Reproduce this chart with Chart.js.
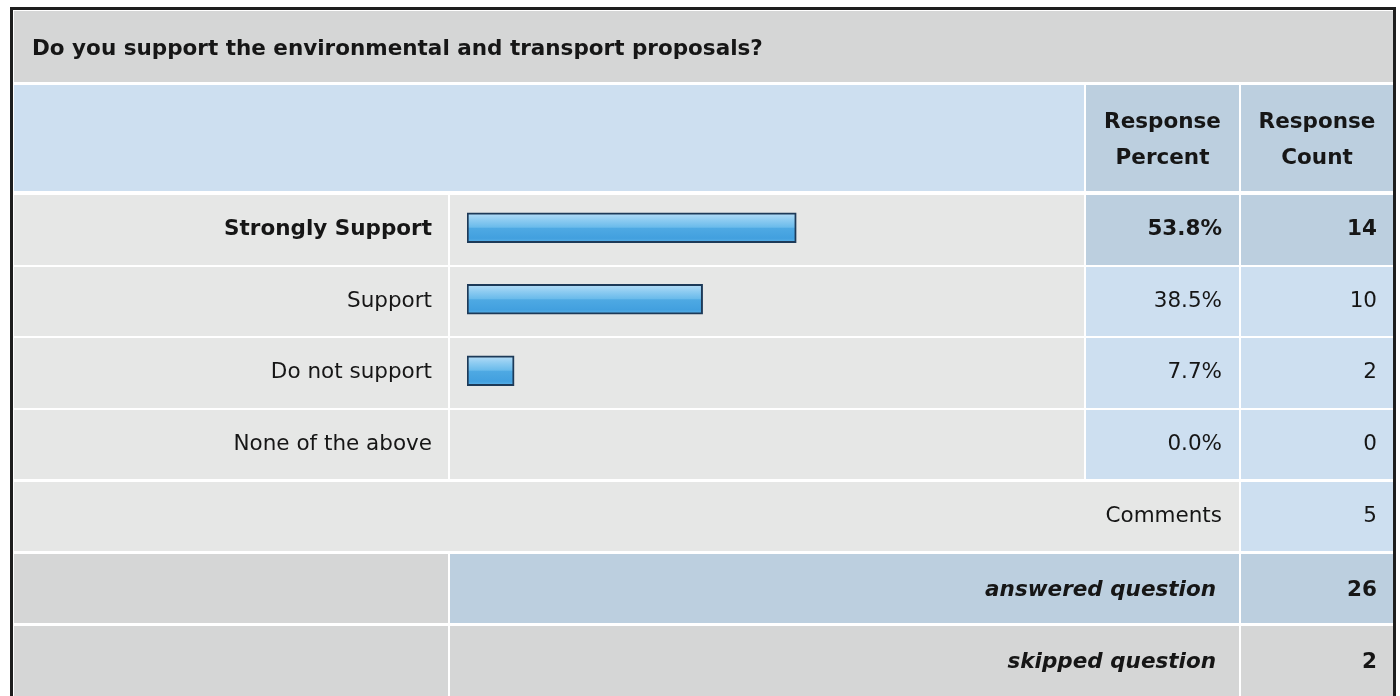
<!DOCTYPE html>
<html>
<head>
<meta charset="utf-8">
<script src="https://cdn.jsdelivr.net/npm/chart.js@4.4.1/dist/chart.umd.min.js"></script>
<style>
  html, body { margin: 0; padding: 0; background: #ffffff; }
  #wrap { width: 1400px; height: 696px; }
</style>
</head>
<body>
<div id="wrap"><canvas id="c" width="1400" height="696"></canvas></div>
<script>
// ---- data ----
const questionTitle = "Do you support the environmental and transport proposals?";
const categories = ["Strongly Support", "Support", "Do not support", "None of the above"];
const responsePercent = [53.8, 38.5, 7.7, 0.0];
const responseCount = [14, 10, 2, 0];
const headerPercent = ["Response", "Percent"];
const headerCount = ["Response", "Count"];
const commentsLabel = "Comments";
const commentsCount = 5;
const answeredLabel = "answered question";
const answeredCount = 26;
const skippedLabel = "skipped question";
const skippedCount = 2;

// ---- styles ----
const GREY_DARK = "#d5d6d6";
const GREY_LIGHT = "#e6e7e6";
const BLUE_LIGHT = "#cddff0";
const BLUE_DARK = "#bccfdf";
const TEXT = "#161616";
const FONT = "'DejaVu Sans', Verdana, sans-serif";
const FS = 21.5;
const ROW_SHIFT = 2; // table rows sit slightly lower than bar centres

const maxIdx = responsePercent.indexOf(Math.max(...responsePercent));

const tablePlugin = {
  id: "surveyTable",
  beforeDraw(chart) {
    const ctx = chart.ctx;
    const ys = chart.scales.y;
    const W = chart.width, H = chart.height;
    ctx.save();
    ctx.fillStyle = "#ffffff";
    ctx.fillRect(0, 0, W, H);

    // outer frame
    ctx.strokeStyle = "#1e1e1e";
    ctx.lineWidth = 3;
    ctx.strokeRect(11.5, 8.5, 1383, H + 20);

    const X0 = 14, X1 = 448, X2 = 450, X3 = 1084, X4 = 1086, X5 = 1239, X6 = 1241, X7 = 1393;
    const cell = (x0, y0, x1, y1, c) => { ctx.fillStyle = c; ctx.fillRect(x0, y0, x1 - x0, y1 - y0); };
    const txt = (s, x, y, align, weight, style) => {
      ctx.font = (style || "normal") + " " + (weight || "normal") + " " + FS + "px " + FONT;
      ctx.fillStyle = TEXT;
      ctx.textAlign = align;
      ctx.textBaseline = "middle";
      ctx.fillText(s, x, y);
    };

    // title row
    cell(X0, 11, X7, 82, GREY_DARK);
    txt(questionTitle, 32, 49, "left", "bold");

    // header row
    cell(X0, 85, X3, 191, BLUE_LIGHT);
    cell(X4, 85, X5, 191, BLUE_DARK);
    cell(X6, 85, X7, 191, BLUE_DARK);
    const cP = (X4 + X5) / 2, cC = (X6 + X7) / 2;
    txt(headerPercent[0], cP, 122, "center", "bold");
    txt(headerPercent[1], cP, 158, "center", "bold");
    txt(headerCount[0], cC, 122, "center", "bold");
    txt(headerCount[1], cC, 158, "center", "bold");

    // answer rows
    const step = (ys.bottom - ys.top) / categories.length;
    categories.forEach((c, i) => {
      const yc = ys.getPixelForValue(i) + ROW_SHIFT;
      const t = Math.round(yc - step / 2) + 1, b = Math.round(yc + step / 2) - 1;
      const hi = i === maxIdx;
      const bc = hi ? BLUE_DARK : BLUE_LIGHT;
      cell(X0, t, X1, b, GREY_LIGHT);
      cell(X2, t, X3, b, GREY_LIGHT);
      cell(X4, t, X5, b, bc);
      cell(X6, t, X7, b, bc);
      const w = hi ? "bold" : "normal";
      txt(c, 432, yc, "right", w);
      txt(responsePercent[i].toFixed(1) + "%", 1222, yc, "right", w);
      txt(String(responseCount[i]), 1377, yc, "right", w);
    });

    // footer rows
    const rowH = 72;
    let t = Math.round(ys.bottom) + ROW_SHIFT + 2;
    cell(X0, t, X5, t + rowH - 3, GREY_LIGHT);
    cell(X6, t, X7, t + rowH - 3, BLUE_LIGHT);
    txt(commentsLabel, 1222, t + 34, "right");
    txt(String(commentsCount), 1377, t + 34, "right");

    t += rowH;
    cell(X0, t, X1, t + rowH - 3, GREY_DARK);
    cell(X2, t, X5, t + rowH - 3, BLUE_DARK);
    cell(X6, t, X7, t + rowH - 3, BLUE_DARK);
    txt(answeredLabel, 1216, t + 36, "right", "bold", "italic");
    txt(String(answeredCount), 1377, t + 36, "right", "bold");

    t += rowH;
    cell(X0, t, X1, H + 5, GREY_DARK);
    cell(X2, t, X5, H + 5, GREY_DARK);
    cell(X6, t, X7, H + 5, GREY_DARK);
    txt(skippedLabel, 1216, t + 36, "right", "bold", "italic");
    txt(String(skippedCount), 1377, t + 36, "right", "bold");

    ctx.restore();
  }
};

const BAR_H = 30;
function barFill(context) {
  const chart = context.chart;
  const ys = chart.scales.y;
  if (!ys || !chart.chartArea) return "#4aa8e0";
  const yc = ys.getPixelForValue(context.dataIndex);
  const g = chart.ctx.createLinearGradient(0, yc - BAR_H / 2, 0, yc + BAR_H / 2);
  g.addColorStop(0.0, "#b8def7");
  g.addColorStop(0.25, "#8ccbf1");
  g.addColorStop(0.48, "#6abbeb");
  g.addColorStop(0.52, "#4ea9e3");
  g.addColorStop(0.85, "#42a0df");
  g.addColorStop(1.0, "#5cb2e8");
  return g;
}

new Chart(document.getElementById("c"), {
  type: "bar",
  data: {
    labels: categories,
    datasets: [{
      data: responsePercent,
      backgroundColor: barFill,
      borderColor: "#1d3a58",
      borderWidth: 2,
      borderSkipped: false,
      barThickness: BAR_H
    }]
  },
  options: {
    indexAxis: "y",
    responsive: false,
    animation: false,
    layout: { padding: { left: 467, right: 321, top: 192, bottom: 218 } },
    scales: {
      x: { display: false, min: 0, max: 100, grid: { display: false } },
      y: { display: false, grid: { display: false } }
    },
    plugins: { legend: { display: false }, tooltip: { enabled: false } }
  },
  plugins: [tablePlugin]
});
</script>
</body>
</html>
